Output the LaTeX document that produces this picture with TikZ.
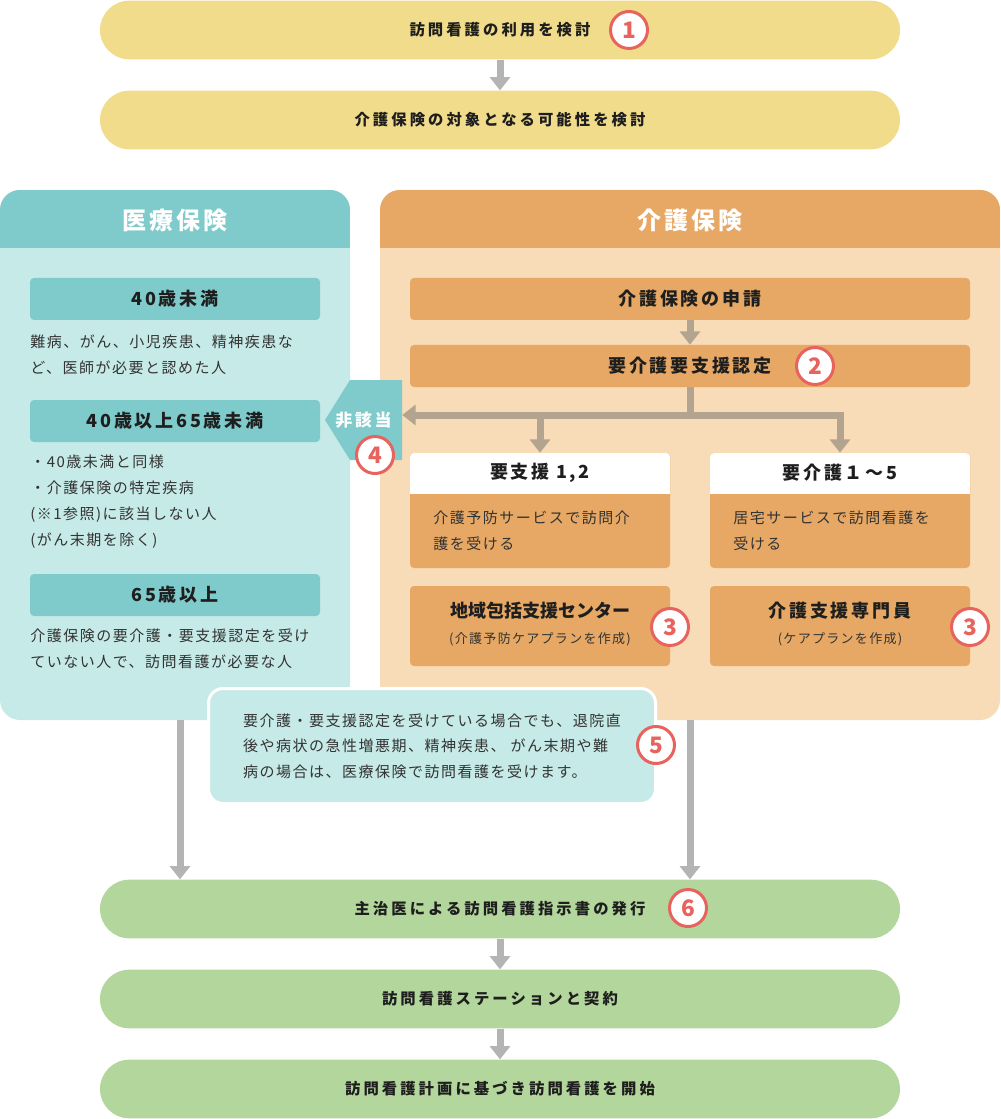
\documentclass[tikz,border=0pt]{standalone}
\usepackage{fontspec}
\setmainfont{Noto Sans CJK JP}
\newfontfamily\flowfont[LetterSpace=20]{Noto Sans CJK JP}
\newfontfamily\headfont[LetterSpace=12]{Noto Sans CJK JP}
\newfontfamily\titlefont[LetterSpace=15]{Noto Sans CJK JP}
\newfontfamily\bodyfont[LetterSpace=10]{Noto Sans CJK JP}
\usetikzlibrary{arrows.meta}

\definecolor{flowyellow}{HTML}{F0DC8A}
\definecolor{flowgreen}{HTML}{B2D69B}
\definecolor{arrowgray}{HTML}{B4B4B4}
\definecolor{medhead}{HTML}{7FCACB}
\definecolor{medlight}{HTML}{C6EAE7}
\definecolor{carehead}{HTML}{E6A864}
\definecolor{carelight}{HTML}{F8DBB7}
\definecolor{branchbrown}{HTML}{B3A490}
\definecolor{numred}{HTML}{E8635D}
\definecolor{inktext}{HTML}{1E1E1E}
\definecolor{bodyink}{HTML}{333333}

\tikzstyle{grayarrow}  = [line width=5.25pt, arrowgray, -{Triangle[width=15pt,length=10pt]}]
\tikzstyle{brownline}  = [line width=5.25pt, branchbrown]
\tikzstyle{brownarrow} = [brownline, -{Triangle[width=15pt,length=10pt]}]
\tikzstyle{flow}       = [rectangle, rounded corners=22pt, minimum width=600pt, minimum height=44pt, text=inktext,
                          font=\flowfont\bfseries\fontsize{11.5pt}{14pt}\selectfont]
\tikzstyle{panel}      = [rectangle, rounded corners=15pt, minimum height=397.5pt]
\tikzstyle{paneltitle} = [text=white, font=\headfont\bfseries\fontsize{18pt}{22pt}\selectfont]
\tikzstyle{boxtitle}   = [text=inktext, font=\titlefont\bfseries\fontsize{13.5pt}{16pt}\selectfont]
\tikzstyle{agehead}    = [rectangle, rounded corners=3pt, fill=medhead, minimum width=217.5pt, minimum height=31.5pt, boxtitle]
\tikzstyle{carebar}    = [rectangle, rounded corners=3pt, fill=carehead, minimum width=420pt, minimum height=31.5pt, boxtitle]
\tikzstyle{choicebox}  = [rectangle, rounded corners=3pt, fill=carehead, minimum width=195pt, minimum height=86.25pt,
                          path picture={\fill[white, sharp corners] (path picture bounding box.north west) rectangle ([yshift=-30.75pt]path picture bounding box.north east);}]
\tikzstyle{planbox}    = [rectangle, rounded corners=3pt, fill=carehead, minimum width=195pt, minimum height=60pt]
\tikzstyle{bodytext}   = [align=left, anchor=west, inner sep=0pt, text=bodyink, font=\bodyfont\fontsize{11.25pt}{19.5pt}\selectfont]
\tikzstyle{subtext}    = [text=bodyink, font=\bodyfont\fontsize{9.75pt}{12pt}\selectfont]
\tikzstyle{numcircle}  = [circle, draw=numred, line width=2.25pt, fill=white, minimum size=27.75pt, inner sep=0pt, text=numred,
                          font=\bfseries\fontsize{17pt}{17pt}\selectfont]
\tikzset{every node/.style={align=center}}

\begin{document}
\begin{tikzpicture}[x=0.75pt, y=-0.75pt]
    \useasboundingbox (0,0) rectangle (1000,1119);

    \node (med)  at (175,455) [panel, fill=medlight, minimum width=262.5pt,
          path picture={\fill[medhead, sharp corners] (path picture bounding box.north west) rectangle ([yshift=-43.5pt]path picture bounding box.north east);}] {};
    \node (care) at (690,455) [panel, fill=carelight, minimum width=465pt,
          path picture={\fill[carehead, sharp corners] (path picture bounding box.north west) rectangle ([yshift=-43.5pt]path picture bounding box.north east);}] {};
    \node (medtitle)  at (175,220) [paneltitle] {医療保険};
    \node (caretitle) at (690,220) [paneltitle] {介護保険};

    \node (age1) at (175,299) [agehead] {40歳未満};
    \node (age1txt) at (30,355) [bodytext]
          {難病、がん、小児疾患、精神疾患な\\ど、医師が必要と認めた人};
    \node (age2) at (175,421) [agehead] {40歳以上65歳未満};
    \node (age2txt) at (30,502) [bodytext]
          {・40歳未満と同様\\・介護保険の特定疾病\\(※1参照)に該当しない人\\(がん末期を除く)};
    \node (age3) at (175,595) [agehead] {65歳以上};
    \node (age3txt) at (30,649) [bodytext]
          {介護保険の要介護・要支援認定を受け\\ていない人で、訪問看護が必要な人};

    \node (apply) at (690,299) [carebar] {介護保険の申請};
    \node (cert)  at (690,366) [carebar] {要介護要支援認定};

    \node (shien) at (540,510.5) [choicebox] {};
    \node (shienhead) at (540,473) [boxtitle] {要支援 1,2};
    \node (shientxt)  at (433,531) [bodytext] {介護予防サービスで訪問介\\護を受ける};
    \node (kaigo) at (840,510.5) [choicebox] {};
    \node (kaigohead) at (840,473) [boxtitle] {要介護１～5};
    \node (kaigotxt)  at (733,531) [bodytext] {居宅サービスで訪問看護を\\受ける};

    \node (center)  at (540,626) [planbox] {};
    \node (centerttl) at (540,611) [boxtitle, font=\bfseries\fontsize{13.5pt}{16pt}\selectfont] {地域包括支援センター};
    \node (centersub) at (540,639) [subtext] {(介護予防ケアプランを作成)};
    \node (manager) at (840,626) [planbox] {};
    \node (managerttl) at (840,611) [boxtitle] {介護支援専門員};
    \node (managersub) at (840,639) [subtext] {(ケアプランを作成)};

    \node (ng) at (363.5,420) [rectangle, minimum width=57.75pt, minimum height=60pt, inner sep=0pt, fill=medlight,
          text=white, font=\titlefont\bfseries\fontsize{12.75pt}{15pt}\selectfont,
          path picture={\fill[medhead] (path picture bounding box.north east) -- ([xshift=18.75pt]path picture bounding box.north west)
                        -- (path picture bounding box.west) -- ([xshift=18.75pt]path picture bounding box.south west)
                        -- (path picture bounding box.south east) -- cycle;}] {非該当};

    \coordinate (junc) at (690,415);
    \draw [brownarrow] (apply) -- (cert);
    \draw [brownline]  (cert) -- (junc);
    \draw [brownarrow] (junc) -- (junc -| ng.east);
    \draw [brownarrow] (junc) -| (kaigo.north);
    \draw [brownarrow] (junc -| shien.north) -- (shien.north);

    \node (f1) at (500,30)   [flow, fill=flowyellow] {訪問看護の利用を検討};
    \node (f2) at (500,120)  [flow, fill=flowyellow] {介護保険の対象となる可能性を検討};
    \node (f6) at (500,909)  [flow, fill=flowgreen]  {主治医による訪問看護指示書の発行};
    \node (f7) at (500,999)  [flow, fill=flowgreen]  {訪問看護ステーションと契約};
    \node (f8) at (500,1089) [flow, fill=flowgreen]  {訪問看護計画に基づき訪問看護を開始};

    \draw [grayarrow] (f1) -- (f2);
    \draw [grayarrow] ([xshift=3.75pt]med.south) -- ([xshift=3.75pt]med.south |- f6.north);
    \draw [grayarrow] (care.south) -- (care.south |- f6.north);
    \draw [grayarrow] (f6) -- (f7);
    \draw [grayarrow] (f7) -- (f8);

    \node (note) at (432,746) [rectangle, rounded corners=11pt, fill=medlight, draw=white, line width=2.25pt,
          minimum width=335.25pt, minimum height=86.25pt, align=left, text=bodyink,
          font=\bodyfont\fontsize{11.25pt}{19pt}\selectfont]
          {要介護・要支援認定を受けている場合でも、退院直\\後や病状の急性増悪期、精神疾患、 がん末期や難\\病の場合は、医療保険で訪問看護を受けます。};

    \node (n1)  at (629,30)  [numcircle] {1};
    \node (n2)  at (815,366) [numcircle] {2};
    \node (n3a) at (670,627) [numcircle] {3};
    \node (n3b) at (970,627) [numcircle] {3};
    \node (n4)  at (375,455) [numcircle] {4};
    \node (n5)  at (656,745) [numcircle] {5};
    \node (n6)  at (688,908) [numcircle] {6};
\end{tikzpicture}
\end{document}
